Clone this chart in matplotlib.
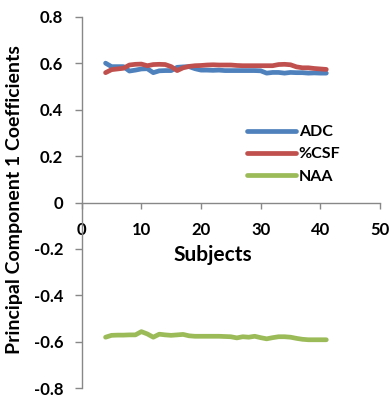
import matplotlib
matplotlib.use("Agg")
import matplotlib.pyplot as plt

subjects = list(range(4, 42))
adc = [0.600, 0.585, 0.585, 0.585, 0.566, 0.570, 0.575, 0.576, 0.559, 0.567,
       0.568, 0.568, 0.582, 0.584, 0.585, 0.576, 0.570, 0.570, 0.569, 0.570,
       0.568, 0.568, 0.568, 0.568, 0.568, 0.568, 0.567, 0.557, 0.560, 0.560,
       0.557, 0.560, 0.559, 0.559, 0.557, 0.558, 0.557, 0.557]
csf = [0.559, 0.572, 0.575, 0.578, 0.592, 0.595, 0.596, 0.589, 0.594, 0.595,
       0.594, 0.585, 0.568, 0.580, 0.586, 0.589, 0.590, 0.592, 0.593, 0.592,
       0.592, 0.592, 0.590, 0.589, 0.589, 0.589, 0.589, 0.589, 0.589, 0.594,
       0.595, 0.593, 0.584, 0.580, 0.580, 0.577, 0.575, 0.573]
naa = [-0.580, -0.572, -0.571, -0.571, -0.570, -0.570, -0.556, -0.566, -0.580, -0.567,
       -0.570, -0.572, -0.570, -0.568, -0.574, -0.576, -0.576, -0.576, -0.576, -0.576,
       -0.577, -0.578, -0.583, -0.578, -0.580, -0.576, -0.582, -0.587, -0.582, -0.578,
       -0.578, -0.580, -0.585, -0.589, -0.591, -0.591, -0.591, -0.591]
series_names = ["ADC", "%CSF", "NAA"]
colors = ["#4F81BD", "#C0504D", "#9BBB59"]
xticks = [0, 10, 20, 30, 40, 50]
yticks = [-0.8, -0.6, -0.4, -0.2, 0, 0.2, 0.4, 0.6, 0.8]
ytick_labels = ["-0.8", "-0.6", "-0.4", "-0.2", "0", "0.2", "0.4", "0.6", "0.8"]

plt.rcParams['font.family'] = ['Lato', 'DejaVu Sans']
plt.rcParams['font.weight'] = 'bold'

W, H = 390, 397
fig = plt.figure(figsize=(W / 100, H / 100), dpi=100)
left, right, top, bottom = 81.7, 380.0, 16.7, 388.3
ax = fig.add_axes([left / W, 1 - bottom / H, (right - left) / W, (bottom - top) / H])

for vals, name, c in zip([adc, csf, naa], series_names, colors):
    ax.plot(subjects, vals, color=c, lw=3.4, label=name,
            solid_capstyle='round', solid_joinstyle='round')

ax.set_xlim(0, 50)
ax.set_ylim(-0.8, 0.8)
ax.set_xticks(xticks)
ax.set_xticklabels([str(t) for t in xticks])
ax.set_yticks(yticks)
ax.set_yticklabels(ytick_labels)

spine_c = "#888888"
for s in ['top', 'right']:
    ax.spines[s].set_visible(False)
ax.spines['bottom'].set_position(('data', 0))
ax.spines['left'].set_color(spine_c)
ax.spines['bottom'].set_color(spine_c)
ax.spines['left'].set_linewidth(1.0)
ax.spines['bottom'].set_linewidth(1.0)

ax.tick_params(axis='y', direction='out', length=4.8, width=1.0, color=spine_c,
               pad=8.5, labelsize=12, labelcolor='black')
ax.tick_params(axis='x', direction='out', length=4, width=1.0, color=spine_c,
               pad=10, labelsize=12, labelcolor='black')
for lbl in ax.get_xticklabels() + ax.get_yticklabels():
    lbl.set_fontweight('bold')

ax.set_xlabel("Subjects", fontsize=15, fontweight='bold')
ax.xaxis.set_label_coords((213 - left) / (right - left), 1 - (255 - top) / (bottom - top))
ax.xaxis.label.set_va('center')
ax.set_ylabel("Principal Component 1 Coefficients", fontsize=14, fontweight='bold')
ax.yaxis.set_label_coords((15 - left) / (right - left), 1 - (200 - top) / (bottom - top))
ax.yaxis.label.set_va('center')

leg = ax.legend(loc='upper left',
                bbox_to_anchor=((246.7 - left) / (right - left), 1 - (125 - top) / (bottom - top)),
                frameon=False, fontsize=11.5, handlelength=3.1, handletextpad=0.15,
                labelspacing=0.5, borderpad=0, borderaxespad=0)
for t in leg.get_texts():
    t.set_fontweight('bold')

fig.savefig("out.png", dpi=100)
